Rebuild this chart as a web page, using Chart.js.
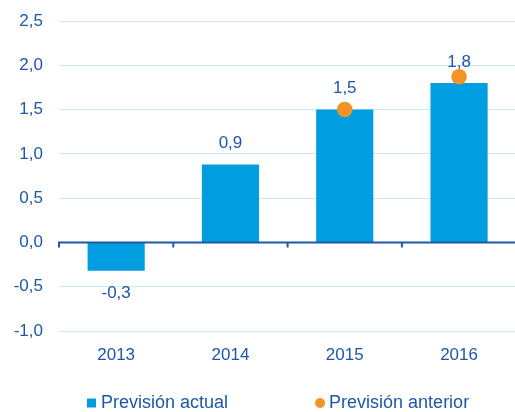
<!DOCTYPE html>
<html>
<head>
<meta charset="utf-8">
<script src="https://cdn.jsdelivr.net/npm/chart.js@4.4.1/dist/chart.umd.min.js"></script>
<style>
  html, body { margin: 0; padding: 0; background: #fff; }
  #wrap { width: 515px; height: 412px; overflow: hidden; }
  #box { width: 524px; height: 412px; position: relative; }
</style>
</head>
<body>
<div id="wrap"><div id="box"><canvas id="myBarChart"></canvas></div></div>
<script>
// datos del gráfico
const years = ['2013', '2014', '2015', '2016'];
const actualForecast = [-0.32, 0.88, 1.5, 1.8];
const previousForecast = [null, null, 1.5, 1.87];
const seriesNames = ['Previsión actual', 'Previsión anterior'];
const yMin = -1.0;
const yMax = 2.5;
const yStep = 0.5;

const textColor = '#1d58a8';
const barColor = '#009ee0';
const dotColor = '#f39325';
const gridColor = '#c9e8f7';
const fontFamily = '"Liberation Sans", Arial, sans-serif';

function fmt(v)
{
    return v.toFixed(1).replace('.', ',');
}

// linea del cero con marcas entre categorias
const zeroLinePlugin = {
    id: 'zeroLine',
    afterDatasetsDraw(chart)
    {
        const { ctx, chartArea, scales } = chart;
        const y = scales.y.getPixelForValue(0);
        const step = scales.x.getPixelForValue(1) - scales.x.getPixelForValue(0);
        ctx.save();
        ctx.strokeStyle = textColor;
        ctx.lineWidth = 2;
        ctx.beginPath();
        ctx.moveTo(chartArea.left - 1, y);
        ctx.lineTo(chartArea.right, y);
        for (let i = 0; i <= years.length; i++)
        {
            const x = scales.x.getPixelForValue(0) - step / 2 + i * step;
            ctx.moveTo(x, y);
            ctx.lineTo(x, y + 5);
        }
        ctx.stroke();
        ctx.restore();
    }
};

// etiquetas de valor encima / debajo de las barras
const valueLabelPlugin = {
    id: 'valueLabels',
    afterDatasetsDraw(chart)
    {
        const { ctx } = chart;
        const meta = chart.getDatasetMeta(0);
        ctx.save();
        ctx.font = '17px ' + fontFamily;
        ctx.fillStyle = textColor;
        ctx.textAlign = 'center';
        ctx.textBaseline = 'middle';
        meta.data.forEach((bar, i) => {
            const v = actualForecast[i];
            const y = v >= 0 ? bar.y - 21 : bar.y + 23;
            ctx.fillText(fmt(v), bar.x, y);
        });
        ctx.restore();
    }
};

// leyenda dibujada a mano
const legendPlugin = {
    id: 'bottomLegend',
    afterDraw(chart, args, opts)
    {
        const { ctx } = chart;
        let x = opts.x;
        ctx.save();
        ctx.font = '18px ' + fontFamily;
        ctx.textBaseline = 'middle';
        ctx.textAlign = 'left';
        chart.data.datasets.forEach((ds, i) => {
            ctx.fillStyle = i === 0 ? ds.backgroundColor : ds.pointBackgroundColor;
            if (i === 0)
            {
                ctx.fillRect(x, opts.y - 4.5, 9, 9);
            }
            else
            {
                ctx.beginPath();
                ctx.arc(x + 5, opts.y, 5, 0, Math.PI * 2);
                ctx.fill();
            }
            ctx.fillStyle = textColor;
            ctx.fillText(ds.label, x + 14, opts.y);
            x += 14 + ctx.measureText(ds.label).width + opts.gap;
        });
        ctx.restore();
    }
};

const ctxBar = document.getElementById('myBarChart').getContext('2d');
const chart = new Chart(ctxBar, {
    data: {
        labels: years,
        datasets: [
            {
                type: 'bar',
                label: seriesNames[0],
                data: actualForecast,
                backgroundColor: barColor,
                barPercentage: 0.5,
                categoryPercentage: 1.0,
                order: 1
            },
            {
                type: 'line',
                label: seriesNames[1],
                data: previousForecast,
                showLine: false,
                pointRadius: 7.8,
                pointBorderWidth: 0,
                pointBackgroundColor: dotColor,
                pointBorderColor: dotColor,
                order: 0
            }
        ]
    },
    options: {
        responsive: true,
        maintainAspectRatio: false,
        animation: false,
        layout: { padding: { top: 21, left: 0, right: 0, bottom: 0 } },
        plugins: {
            legend: { display: false },
            tooltip: { enabled: false },
            bottomLegend: { x: 87, y: 403, gap: 87 }
        },
        scales: {
            x: {
                grid: { display: false },
                border: { display: false },
                ticks: { color: textColor, font: { family: fontFamily, size: 17 }, padding: 6 },
                afterFit(scale) { scale.height = 81; }
            },
            y: {
                min: yMin,
                max: yMax,
                grid: { color: gridColor, lineWidth: 1, drawTicks: false },
                border: { display: false },
                ticks: {
                    stepSize: yStep,
                    color: textColor,
                    font: { family: fontFamily, size: 17 },
                    padding: 16,
                    callback: function (value) { return fmt(value); }
                },
                afterFit(scale)
                {
                    scale.width = 59;
                    scale.paddingTop = 0;
                    scale.paddingBottom = 0;
                }
            }
        }
    },
    plugins: [zeroLinePlugin, valueLabelPlugin, legendPlugin]
});
</script>
</body>
</html>
